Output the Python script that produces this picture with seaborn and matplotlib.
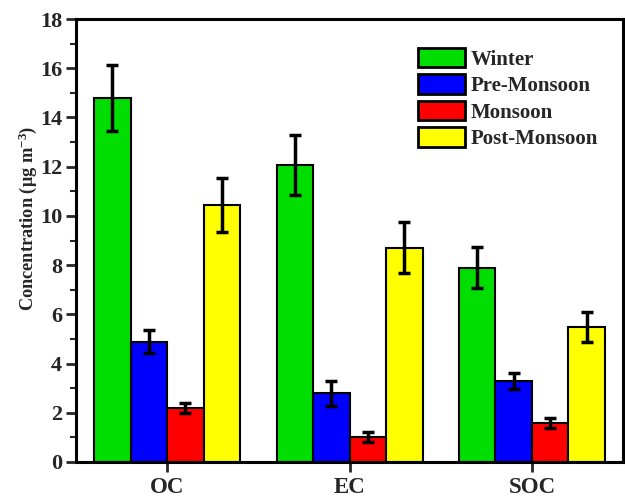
import matplotlib
matplotlib.use("Agg")
import matplotlib.pyplot as plt
import numpy as np
import pandas as pd
import seaborn as sns

# values
species = ["OC", "EC", "SOC"]
seasons = ["Winter", "Pre-Monsoon", "Monsoon", "Post-Monsoon"]
winter = [14.8, 12.07, 7.9]
pre_monsoon = [4.88, 2.79, 3.29]
monsoon = [2.19, 1.01, 1.6]
post_monsoon = [10.45, 8.7, 5.49]
winter_err = [1.33, 1.22, 0.83]
pre_monsoon_err = [0.47, 0.51, 0.33]
monsoon_err = [0.21, 0.21, 0.2]
post_monsoon_err = [1.1, 1.04, 0.61]
colors = ["#00DD00", "#0000FF", "#FF0000", "#FFFF00"]

means = [winter, pre_monsoon, monsoon, post_monsoon]
errs = [winter_err, pre_monsoon_err, monsoon_err, post_monsoon_err]

rows = []
for s, vals, ers in zip(seasons, means, errs):
    for sp, v, e in zip(species, vals, ers):
        rows.append({"Species": sp, "Season": s, "Value": v, "Err": e})
df = pd.DataFrame(rows)

sns.set_style("ticks")
plt.rcParams["font.family"] = ["Liberation Serif", "DejaVu Serif"]
plt.rcParams["font.weight"] = "bold"
plt.rcParams["mathtext.fontset"] = "custom"
plt.rcParams["mathtext.rm"] = "Liberation Serif:bold"
plt.rcParams["mathtext.it"] = "Liberation Serif:bold"
plt.rcParams["mathtext.bf"] = "Liberation Serif:bold"

fig = plt.figure(figsize=(6.25, 4.98), dpi=100)
ax = fig.add_axes([0.1216, 0.0723, 0.8754, 0.8895])

sns.barplot(data=df, x="Species", y="Value", hue="Season", order=species,
            hue_order=seasons, palette=colors, saturation=1, errorbar=None,
            edgecolor="black", linewidth=1.5, width=0.8, gap=0, legend=False, ax=ax)

# error bars placed on the drawn bars
for cont, s in zip(ax.containers, seasons):
    sub = df[df["Season"] == s].set_index("Species").loc[species]
    xs = [p.get_x() + p.get_width() / 2 for p in cont.patches]
    ax.errorbar(xs, sub["Value"], yerr=sub["Err"], fmt="none", ecolor="black",
                elinewidth=2.5, capsize=4, capthick=2.5, zorder=5)

ax.set_ylim(0, 18)
ax.set_xlim(-0.5, 2.5)
ax.set_yticks(np.arange(0, 19, 2))
ax.set_yticks(np.arange(1, 18, 2), minor=True)
ax.tick_params(axis="both", which="major", length=7, width=2)
ax.tick_params(axis="y", which="major", labelsize=16, pad=3)
ax.tick_params(axis="x", which="major", labelsize=16.5, pad=4)
ax.tick_params(axis="y", which="minor", length=4, width=1.5)
ax.set_xlabel("")
ax.set_ylabel("Concentration (μg m$^{-3}$)", fontsize=13.2, fontweight="bold", labelpad=-2)
ax.yaxis.set_label_coords(-0.068, 0.551)
for lab in ax.get_xticklabels() + ax.get_yticklabels():
    lab.set_fontweight("bold")
for sp in ax.spines.values():
    sp.set_visible(True)
    sp.set_linewidth(2.2)
    sp.set_color("black")

leg = ax.legend(ax.containers, seasons, loc="upper left", bbox_to_anchor=(0.609, 0.954),
                frameon=False, fontsize=15, handlelength=2.26, handleheight=1.05,
                labelspacing=0.23, handletextpad=0.3, borderaxespad=0)
for h in leg.legend_handles:
    h.set_linewidth(2)
    h.set_edgecolor("black")
for t in leg.get_texts():
    t.set_fontweight("bold")

fig.savefig("out.png", dpi=100)
